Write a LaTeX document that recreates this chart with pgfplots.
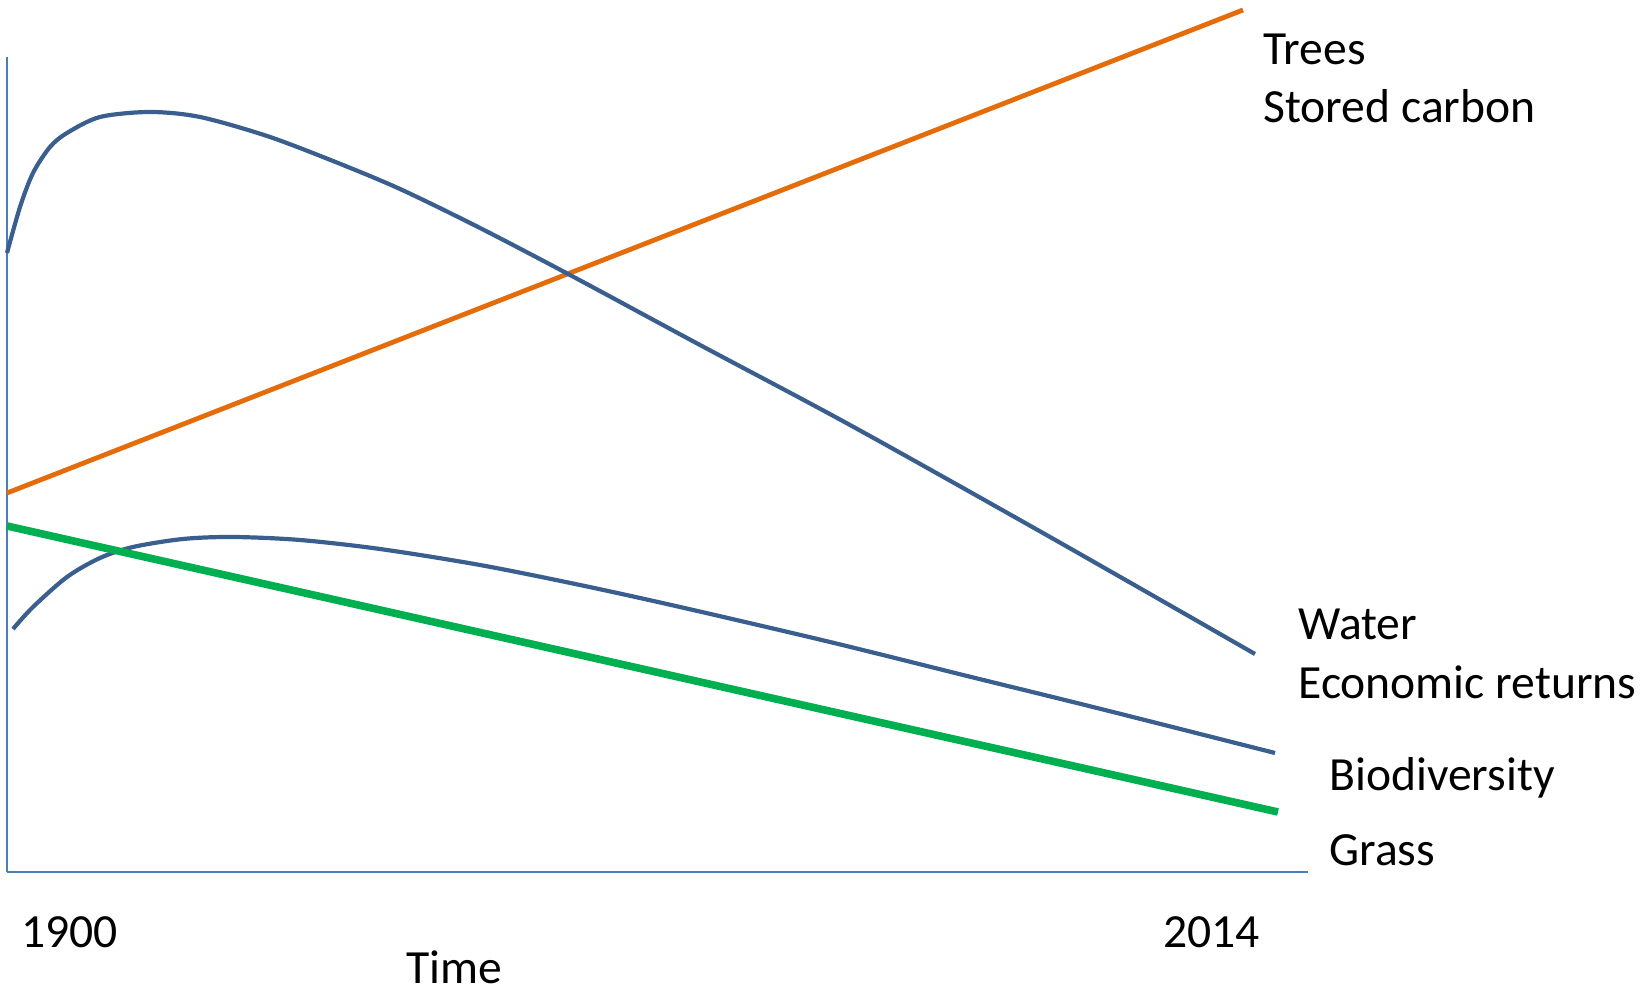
\documentclass[border=0pt]{standalone}
\usepackage{fontspec}
\setmainfont{Carlito}
\usepackage{pgfplots}
\pgfplotsset{compat=1.18}
\definecolor{curveblue}{HTML}{3A5F8E}
\definecolor{treeorange}{HTML}{E46C0A}
\definecolor{grassgreen}{HTML}{00B050}
\definecolor{axisblue}{HTML}{4A7EBB}
\tikzset{lbl/.style={font=\fontsize{23.8}{28}\selectfont, inner sep=0pt, anchor=base west}}
\begin{document}
\begin{tikzpicture}
\begin{axis}[
  x=0.5pt, y=0.5pt,
  xmin=7, xmax=1308, ymin=122, ymax=937,
  separate axis lines,
  axis x line*=bottom, axis y line*=left,
  axis line style={color=axisblue, line width=0.75pt},
  xtick=\empty, ytick=\empty,
  clip=false,
]
\path[draw=none] (axis cs:0,0) rectangle (axis cs:1645,994);
% Trees / Stored carbon
\addplot[color=treeorange, line width=2.4pt] coordinates {(7,501) (1243,984)};
% Water / Economic returns
\addplot[color=curveblue, line width=2.1pt, smooth] coordinates {
(7,741) (20,787) (33,821) (50,847) (67,861) (100,877) (150,882) (200,877)
(267,858) (333,833) (400,805) (480,766) (570,719) (700,649) (850,569) (1050,457) (1255,340)};
% Biodiversity
\addplot[color=curveblue, line width=2.1pt, smooth] coordinates {
(13,365) (33,387) (67,417) (100,436) (133,447) (183,455) (233,457) (300,454)
(380,445) (480,429) (580,409) (680,387) (830,352) (963,319) (1097,286) (1275,241)};
% Grass
\addplot[color=grassgreen, line width=3.8pt] coordinates {(7,468) (1278,182)};
\node[lbl] at (axis cs:1263,929) {Trees};
\node[lbl] at (axis cs:1263,871) {Stored carbon};
\node[lbl] at (axis cs:1298,354) {Water};
\node[lbl] at (axis cs:1298,295) {Economic returns};
\node[lbl] at (axis cs:1329,203) {Biodiversity};
\node[lbl] at (axis cs:1329,128) {Grass};
\node[lbl] at (axis cs:21,46) {1900};
\node[lbl] at (axis cs:1163,46) {2014};
\node[lbl] at (axis cs:406,10) {Time};
\end{axis}
\end{tikzpicture}
\end{document}
